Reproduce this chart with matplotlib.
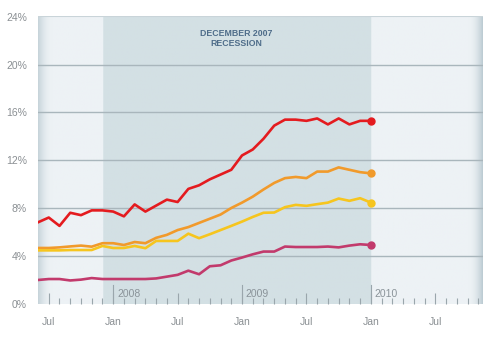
import matplotlib
matplotlib.use("Agg")
import matplotlib.pyplot as plt
import numpy as np
from matplotlib.colors import to_rgb

plt.rcParams['font.family'] = ['Liberation Sans', 'DejaVu Sans']

# months counted from Jan 2008 = 0 ; data runs Jun 2007 .. Jan 2010
months = list(range(-7, 25))

red = [6.8, 7.2, 6.5, 7.6, 7.4, 7.8, 7.8, 7.7, 7.3, 8.3, 7.7, 8.2, 8.7, 8.5, 9.6, 9.9,
       10.4, 10.8, 11.2, 12.4, 12.9, 13.8, 14.9, 15.4, 15.4, 15.3, 15.5, 15.0, 15.5, 15.0,
       15.3, 15.3]
orange = [4.65, 4.65, 4.7, 4.78, 4.85, 4.76, 5.05, 5.05, 4.9, 5.15, 5.05, 5.5, 5.75, 6.15,
          6.4, 6.75, 7.1, 7.45, 8.0, 8.45, 8.95, 9.55, 10.1, 10.5, 10.6, 10.5, 11.05, 11.05,
          11.4, 11.2, 11.0, 10.9]
yellow = [4.45, 4.45, 4.45, 4.48, 4.48, 4.48, 4.82, 4.65, 4.65, 4.82, 4.63, 5.24, 5.24, 5.24,
          5.85, 5.47, 5.8, 6.15, 6.5, 6.86, 7.25, 7.6, 7.62, 8.07, 8.26, 8.18, 8.32, 8.45,
          8.79, 8.6, 8.82, 8.45]
magenta = [1.97, 2.05, 2.05, 1.93, 2.0, 2.13, 2.05, 2.05, 2.05, 2.05, 2.05, 2.1, 2.25, 2.4,
           2.75, 2.45, 3.12, 3.2, 3.6, 3.85, 4.12, 4.35, 4.35, 4.77, 4.73, 4.73, 4.73, 4.77,
           4.7, 4.85, 4.96, 4.9]

series = [(red, '#e41b1f'), (orange, '#f19a2b'), (yellow, '#f6c51e'), (magenta, '#c23a6c')]

yticks = [0, 4, 8, 12, 16, 20, 24]
ytick_labels = ['0%', '4%', '8%', '12%', '16%', '20%', '24%']
xticks_major = [-6, 0, 6, 12, 18, 24, 30]
xtick_labels = ['Jul', 'Jan', 'Jul', 'Jan', 'Jul', 'Jan', 'Jul']
years = [(0, '2008'), (12, '2009'), (24, '2010')]
recession = (-1, 24)

x0, x1 = -7, 34.4
y0, y1 = 0, 24.08

fig = plt.figure(figsize=(4.99, 3.37), dpi=100)
ax = fig.add_axes([0.0762, 0.0994, 0.8908, 0.8531])
ax.set_xlim(x0, x1)
ax.set_ylim(y0, y1)

# background with recession band and soft shadows at the edges
nx = 450
xs = np.linspace(x0, x1, nx)
light = np.array(to_rgb('#edf2f5'))
dark = np.array(to_rgb('#d3e0e4'))
img = np.where(((xs >= recession[0]) & (xs <= recession[1]))[:, None], dark, light)
shade = np.array(to_rgb('#a9bcc5'))
px = (xs - x0) / (x1 - x0) * 444
w = np.clip(1 - px / 14, 0, 1) ** 2 * 0.55 + np.clip(1 - (444 - px) / 14, 0, 1) ** 2 * 0.7
img = img * (1 - w[:, None]) + shade * w[:, None]
ax.imshow(img[None, :, :], extent=[x0, x1, y0, y1], aspect='auto', zorder=0,
          interpolation='bilinear')

for y in yticks[1:-1]:
    ax.axhline(y, color='#a9b6bc', lw=1.0, zorder=1)
ax.axhline(y1, color='#c9d4d9', lw=1.5, zorder=1)

for vals, col in series:
    ax.plot(months, vals, color=col, lw=1.9, solid_joinstyle='round', zorder=3)
    ax.plot(months[-1], vals[-1], 'o', color=col, ms=5, zorder=4)

ax.text(11.5, 23.0, 'DECEMBER 2007\nRECESSION', ha='center', va='top', fontsize=6.3,
        fontweight='bold', color='#4f6d8a', linespacing=1.1)

# year separators
for xm, lab in years:
    ax.plot([xm, xm], [0, 1.55], color='#9aa6ac', lw=0.8, zorder=2)
    ax.text(xm + 0.35, 0.8, lab, fontsize=7.5, color='#8a9399', va='center', ha='left')

for s in ax.spines.values():
    s.set_visible(False)

ax.set_yticks(yticks)
ax.set_yticklabels(ytick_labels)
ax.set_xticks(xticks_major)
ax.set_xticklabels(xtick_labels)
ax.set_xticks([m for m in range(-6, 35) if m not in xticks_major], minor=True)
ax.tick_params(axis='y', length=0, pad=8, labelsize=7.5, labelcolor='#8a8f93')
ax.tick_params(axis='x', which='major', direction='in', length=8, width=0.8,
               color='#9aa6ac', pad=10, labelsize=7.5, labelcolor='#8a8f93')
ax.tick_params(axis='x', which='minor', direction='in', length=4, width=0.8, color='#9aa6ac')

fig.savefig('out.png', dpi=100)
